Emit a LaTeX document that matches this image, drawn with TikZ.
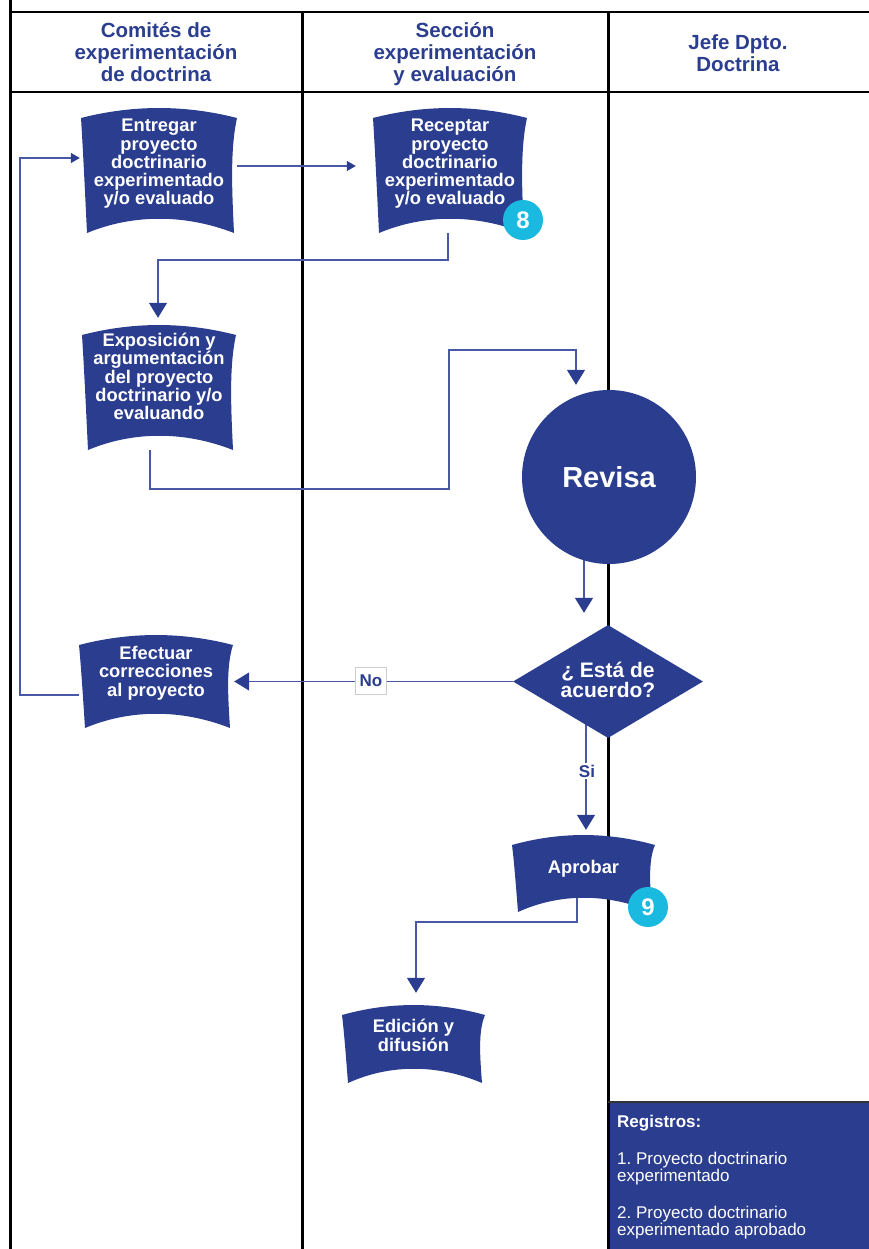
\documentclass[tikz,border=0pt]{standalone}
\usepackage{fontspec}
\setmainfont{Liberation Sans}
\usetikzlibrary{arrows.meta,calc,shapes.geometric}
\definecolor{nblue}{RGB}{43,61,142}
\definecolor{nline}{RGB}{72,88,165}
\definecolor{badgec}{RGB}{26,185,224}
\pgfdeclarelayer{bg}
\pgfsetlayers{bg,main}
\frenchspacing
\tikzset{
  lane/.style={line width=3pt, black},
  conn/.style={nline, line width=1.3pt},
  bigtip/.style={-{Triangle[length=15pt,width=18pt,color=nblue]}},
  smalltip/.style={-{Triangle[length=9pt,width=10pt,color=nblue]}},
  btext/.style={text=white, font=\fontsize{18.3}{18.3}\selectfont\bfseries, align=center, inner sep=0pt},
  htext/.style={text=nblue, font=\fontsize{20.5}{22}\selectfont\bfseries, align=center, inner sep=0pt},
  badge/.style={circle, fill=badgec, minimum size=40pt, inner sep=0pt, text=white, font=\fontsize{24}{24}\selectfont\bfseries},
  lbl/.style={fill=white, text=nblue, font=\fontsize{17}{17}\selectfont\bfseries, inner sep=2pt},
}
\newcommand\bannerbox[7]{%
  \fill[nblue] ({#2-#4},{#3-#5+10})
    .. controls ({#2-#4/3},{#3-#5-3.3}) and ({#2+#4/3},{#3-#5-3.3}) .. ({#2+#4},{#3-#5+10})
    .. controls ({#2+#4-7},{#3-#5/3}) and ({#2+#4-5},{#3+#5/3}) .. ({#2+#4-3},{#3+#5})
    .. controls ({#2+#4/3},{#3+#5-19}) and ({#2-#4/3},{#3+#5-19}) .. ({#2-#4+6},{#3+#5})
    .. controls ({#2-#4+4},{#3+#5/3}) and ({#2-#4+2},{#3-#5/3}) .. cycle;
  \node[inner sep=0pt, minimum width={2*#4}, minimum height={2*#5}] (#1) at (#2,#3) {};
  \node[btext] (#1-t) at (#2,#6) {#7};
}
\begin{document}
\begin{tikzpicture}[x=1pt,y=-1pt]
\useasboundingbox (0,0) rectangle (869,1249);
% background: records box and lanes
\begin{pgfonlayer}{bg}
  \fill[nblue] (608,1102) rectangle (869,1249);
  \draw[lane] (10,0) -- (10,1249);
  \draw[lane, line width=2.5pt] (10,12) -- (869,12);
  \draw[lane, line width=2.5pt] (10,92) -- (869,92);
  \draw[lane] (302,12) -- (302,1249);
  \draw[lane] (608,12) -- (608,1249);
  \draw[lane, line width=2pt, black!80] (608,1102) -- (869,1102);
\end{pgfonlayer}
% headers
\node[htext] (h1) at (156,52.5) {Comités de\\experimentación\\de doctrina};
\node[htext] (h2) at (455,54.5) {Sección\\experimentación\\y evaluación};
\node[htext] (h3) at (738,53) {Jefe Dpto.\\Doctrina};
% process shapes
\bannerbox{ent}{159}{170.5}{78}{62.5}{164}{Entregar\\proyecto\\doctrinario\\experimentado\\y/o evaluado}
\bannerbox{rec}{450}{170.5}{77}{62.5}{164}{Receptar\\proyecto\\doctrinario\\experimentado\\y/o evaluado}
\bannerbox{exp}{159}{387.5}{77}{62.5}{376.5}{Exposición y\\argumentación\\del proyecto\\doctrinario y/o\\evaluando}
\bannerbox{efe}{156}{681.5}{77}{46.5}{673}{Efectuar\\correcciones\\al proyecto}
\bannerbox{apr}{583.5}{873.5}{71.5}{38.5}{868.5}{Aprobar}
\bannerbox{edi}{413.5}{1044}{71.5}{39}{1035.5}{Edición y\\difusión}
\node[circle, fill=nblue, minimum size=174pt, inner sep=0pt, text=white,
      font=\fontsize{29}{29}\selectfont\bfseries] (rev) at (609,477) {Revisa};
\node[diamond, fill=nblue, minimum width=190pt, minimum height=113pt, inner sep=0pt, aspect=1.68] (dia) at (608,681.5) {};
\node[text=white, font=\fontsize{21}{20}\selectfont\bfseries, align=center, inner sep=0pt] (dia-t) at (608,679.5) {¿ Está de\\acuerdo?};
\node[badge] (b8) at (523,220) {8};
\node[badge] (b9) at (648,907) {9};
% records
\node[anchor=north west, text=white, align=left, font=\fontsize{17}{17}\selectfont, inner sep=0pt] (reg) at (617,1115)
  {\textbf{Registros:}\\[20pt]1. Proyecto doctrinario\\experimentado\\[20pt]2. Proyecto doctrinario\\experimentado aprobado};
% connectors
\begin{pgfonlayer}{bg}
  \draw[conn, smalltip, shorten >=17pt] (ent.east |- 0,166) -- (rec.west |- 0,166);
  \draw[conn, bigtip, shorten >=7pt] (rec.south -| 448,0) -- (448,260) -| (exp.north -| 158,0);
  \draw[conn, bigtip, shorten >=5pt] (exp.south -| 150,0) -- (150,489) -- (449,489) -- (449,350) -| (rev.north -| 576,0);
  \draw[conn, bigtip, shorten >=12pt] (rev.center -| 584,0) -- (dia.north -| 584,0);
  \draw[conn, bigtip, shorten >=1pt] (dia.west) -- (efe.east |- dia.west);
  \draw[conn, bigtip, shorten >=5pt] (dia.center -| 586,0) -- (apr.north -| 586,0);
  \draw[conn, bigtip, shorten >=12pt] (apr.center -| 577,0) -- (577,922) -| (edi.north -| 416,0);
  \draw[conn, smalltip, shorten >=1pt] (efe.west |- 0,695) -- (20,695) |- (ent.west |- 0,158);
\end{pgfonlayer}
\node[lbl, draw=gray!40, line width=0.6pt, minimum width=31pt, minimum height=27pt, inner sep=0pt] (no) at (371,681) {No};
\node[lbl] (si) at (587,771) {Si};
\end{tikzpicture}
\end{document}
